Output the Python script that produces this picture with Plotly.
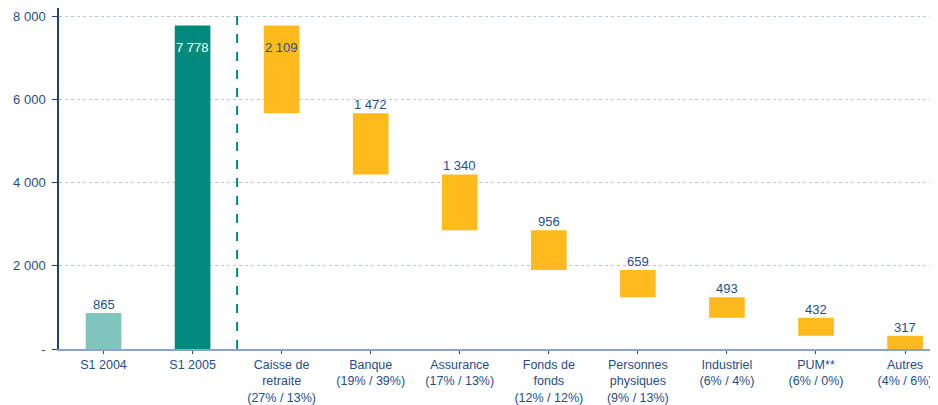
import plotly.graph_objects as go

categories = ["S1 2004", "S1 2005", "Caisse de<br>retraite<br>(27% / 13%)", "Banque<br>(19% / 39%)",
              "Assurance<br>(17% / 13%)", "Fonds de<br>fonds<br>(12% / 12%)", "Personnes<br>physiques<br>(9% / 13%)",
              "Industriel<br>(6% / 4%)", "PUM**<br>(6% / 0%)", "Autres<br>(4% / 6%)"]
totals = [865, 7778]
contrib = [2109, 1472, 1340, 956, 659, 493, 432, 317]
y_tickvals = [0, 2000, 4000, 6000, 8000]
y_ticktext = ["-", "2 000", "4 000", "6 000", "8 000"]

def fmt(v):
    return f"{v:,}".replace(",", " ")

TXT = "#1f4e8c"
FONT = "Liberation Sans, Arial"
xs = list(range(len(categories)))

# waterfall bases
bases = []
level = totals[1]
for c in contrib:
    level -= c
    bases.append(level)

fig = go.Figure()
fig.add_trace(go.Bar(
    x=xs[:2], y=totals, width=0.40,
    marker=dict(color=["#80c5bd", "#008a7e"], line=dict(width=0)),
    showlegend=False, hoverinfo="skip",
))
fig.add_trace(go.Bar(
    x=xs[2:], y=contrib, base=bases, width=0.40,
    marker=dict(color="#ffba1e", line=dict(width=0)),
    showlegend=False, hoverinfo="skip",
))

# value labels
all_x = xs
all_top = totals + [b + c for b, c in zip(bases, contrib)]
all_val = totals + contrib
inside = {1: "white", 2: TXT}
for x, top, v in zip(all_x, all_top, all_val):
    if x in inside:
        fig.add_annotation(x=x, y=top, text=fmt(v), showarrow=False, yanchor="top", yshift=-12,
                           font=dict(color=inside[x], size=13, family=FONT))
    else:
        fig.add_annotation(x=x, y=top, text=fmt(v), showarrow=False, yanchor="bottom", yshift=-1,
                           font=dict(color=TXT, size=13, family=FONT))

fig.add_shape(type="line", xref="x", yref="paper", x0=1.5, x1=1.5, y0=0, y1=1.02,
              line=dict(color="#00897b", width=2, dash="dash"))

fig.update_layout(
    width=930, height=397,
    margin=dict(l=51, r=0, t=0, b=56),
    paper_bgcolor="white", plot_bgcolor="white",
    font=dict(family=FONT, color=TXT, size=12.5),
    xaxis=dict(
        tickmode="array", tickvals=xs, ticktext=categories,
        range=[-0.5, 9.37], tickson="boundaries", automargin=False,
        ticks="outside", ticklen=3, tickcolor="#1f4e8c", tickwidth=1,
        showline=True, linecolor="#8ba4c9", linewidth=2,
        showgrid=False, zeroline=False,
        tickfont=dict(size=12.5, color=TXT),
    ),
    yaxis=dict(
        tickmode="array", tickvals=y_tickvals, ticktext=y_ticktext,
        range=[0, 8200], automargin=False,
        ticks="outside", ticklen=5, tickcolor="#1f3f7f", tickwidth=1,
        ticklabelstandoff=4,
        showline=True, linecolor="#1f3f7f", linewidth=1.5,
        showgrid=True, gridcolor="#b8c6dc", griddash="dot", gridwidth=1,
        zeroline=False,
        tickfont=dict(size=13, color=TXT),
    ),
)

fig.write_html("out.html")
